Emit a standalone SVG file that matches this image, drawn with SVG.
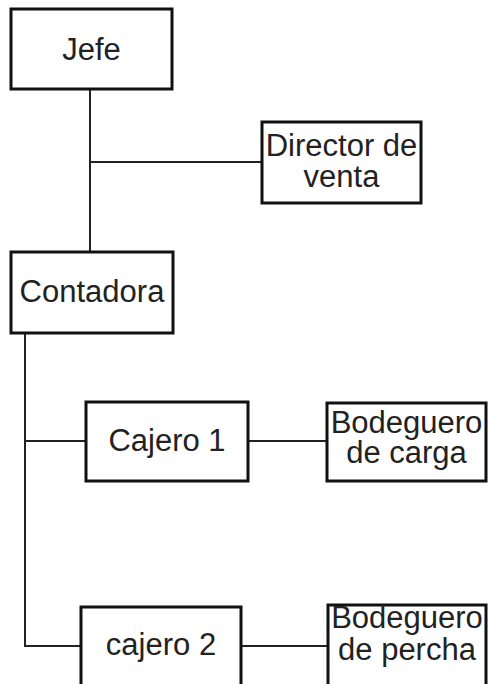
<svg xmlns="http://www.w3.org/2000/svg" width="488" height="684" viewBox="0 0 488 684">
<style>
.box{fill:#fff;stroke:#111;stroke-width:3}
.ln{fill:none;stroke:#222;stroke-width:2}
text{font-family:"Liberation Sans",Arial,sans-serif;font-size:31px;fill:#222;text-anchor:middle}
</style>
<rect width="488" height="684" fill="#fff"/>
<g id="connectors">
<path class="ln" d="M90,89 V252 M90,162 H262"/>
<path class="ln" d="M25,333 V646 H81 M25,441 H86"/>
<path class="ln" d="M248,441 H327"/>
<path class="ln" d="M241,646 H328"/>
</g>
<g id="jefe"><rect class="box" x="11" y="9" width="161" height="80"/><text x="91.5" y="60">Jefe</text></g>
<g id="director"><rect class="box" x="262" y="122" width="159" height="81"/><text x="341.5" y="156">Director de</text><text x="341.5" y="187">venta</text></g>
<g id="contadora"><rect class="box" x="11" y="252" width="162" height="81"/><text x="92" y="302">Contadora</text></g>
<g id="cajero1"><rect class="box" x="86" y="402" width="162" height="79"/><text x="167" y="451">Cajero 1</text></g>
<g id="bodeguero-carga"><rect class="box" x="327" y="403" width="159" height="78"/><text x="406.5" y="433">Bodeguero</text><text x="406.5" y="463">de carga</text></g>
<g id="cajero2"><rect class="box" x="81" y="607" width="160" height="85"/><text x="161" y="655">cajero 2</text></g>
<g id="bodeguero-percha"><rect class="box" x="328" y="605" width="158" height="87"/><text x="407" y="628">Bodeguero</text><text x="407" y="660">de percha</text></g>
</svg>
